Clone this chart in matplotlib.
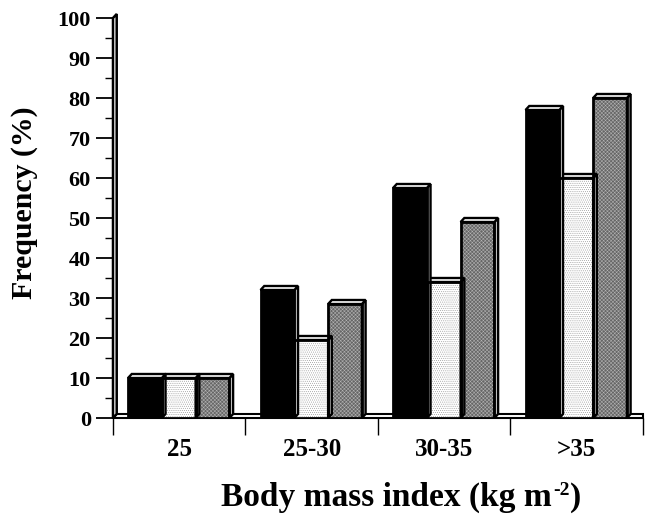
import numpy as np
import matplotlib
matplotlib.use('Agg')
import matplotlib.pyplot as plt
from matplotlib.patches import Polygon

categories = ['25', '25-30', '30-35', '>35']
series_a = [10, 32, 57.5, 77]
series_b = [10, 19.5, 34, 60]
series_c = [10, 28.5, 49, 80]
yticks = list(range(0, 101, 10))

plt.rcParams['font.family'] = ['Liberation Serif', 'DejaVu Serif']
plt.rcParams['font.weight'] = 'bold'
plt.rcParams['hatch.linewidth'] = 0.35

W, H = 647, 516
fig = plt.figure(figsize=(W/100, H/100), dpi=100)
# axes placed by pixels: x 113-643, y 18-418
ax = fig.add_axes([113/W, 1-418/H, 530/W, 400/H])
ax.set_xlim(-0.5, 3.5)
ax.set_ylim(0, 100)

dx = 0.028  # depth of the fake 3d, x units
dy = 1.0    # depth of the fake 3d, y units
bw = 0.255
x = np.arange(len(categories)) - 0.004


def bar3d(xc, v, face, hatch, edge):
    left = xc - bw/2
    right = xc + bw/2
    ax.bar(xc, v, bw, color=face, hatch=hatch, edgecolor=edge, lw=0, zorder=3)
    ax.bar(xc, v, bw, fill=False, edgecolor='k', lw=2.0, zorder=4)
    top = [(left, v), (left+dx, v+dy), (right+dx, v+dy), (right, v)]
    side = [(right, 0), (right+dx, dy), (right+dx, v+dy), (right, v)]
    ax.add_patch(Polygon(side, fc='#cccccc', ec='k', lw=1.7, zorder=3.5, clip_on=False))
    ax.add_patch(Polygon(top, fc='white', ec='k', lw=1.7, zorder=3.5, clip_on=False))


# floor and back wall
ax.add_patch(Polygon([(-0.5, 0), (-0.5+dx, dy), (3.5, dy), (3.5, 0)],
                     fc='white', ec='k', lw=1.5, zorder=2, clip_on=False))
ax.add_patch(Polygon([(-0.5, 0), (-0.5, 100), (-0.5+dx, 100+dy), (-0.5+dx, dy)],
                     fc='white', ec='k', lw=1.8, zorder=2, clip_on=False))

for i in range(len(categories)):
    bar3d(x[i]+bw, series_c[i], '#666666', 'xxxxxxxxx', '#b4b4b4')
    bar3d(x[i], series_b[i], 'white', '........', '#909090')
    bar3d(x[i]-bw, series_a[i], 'black', None, 'black')

for s in ax.spines.values():
    s.set_visible(False)
ax.spines['bottom'].set_visible(True)
ax.spines['bottom'].set_linewidth(1.4)

ax.set_yticks(yticks)
ax.set_yticks(np.arange(5, 100, 10), minor=True)
ax.tick_params(axis='y', which='major', length=12, width=1.3, labelsize=16, pad=4)
ax.tick_params(axis='y', which='minor', length=6, width=1.0)
ax.set_xticks(np.arange(-0.5, 4, 1))
ax.set_xticklabels([])
ax.tick_params(axis='x', which='major', length=12, width=1.0)
for i, c in enumerate(categories):
    ax.annotate(c, (i, 0), xytext=(0, -32), textcoords='offset pixels',
                ha='center', va='center', fontsize=18, fontweight='bold')

# x label in three pieces so the exponent keeps a plain hyphen
xl = fig.text(221/W, 1-506/H, 'Body mass index (kg m', ha='left', va='baseline',
              fontsize=24, fontweight='bold')
sup = ax.annotate('-2', xy=(1, 0), xycoords=xl, xytext=(1, 18), textcoords='offset pixels',
                  ha='left', va='baseline', fontsize=14, fontweight='bold')
ax.annotate(')', xy=(1, 0), xycoords=sup, xytext=(1, -7), textcoords='offset pixels',
            ha='left', va='baseline', fontsize=24, fontweight='bold')
fig.text(25/W, 1-203/H, 'Frequency (%)', rotation=90, ha='center', va='center',
         fontsize=21.5, fontweight='bold')

fig.savefig('out.png', dpi=100)
